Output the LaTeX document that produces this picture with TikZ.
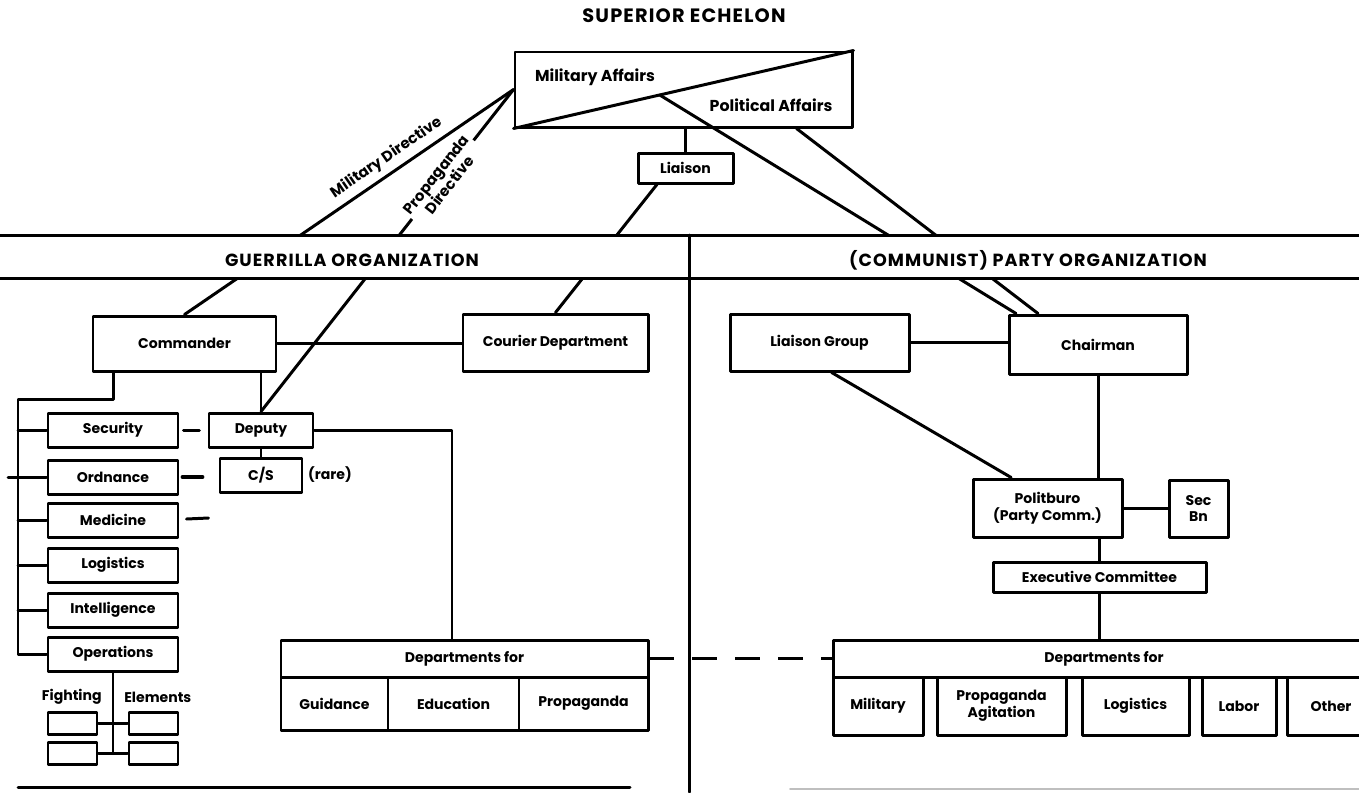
\documentclass[tikz,border=0pt]{standalone}
\usepackage{fontspec}
\setmainfont{Poppins}
\begin{document}
\begin{tikzpicture}[x=0.02cm, y=-0.02cm, line width=1.7pt, line join=round, line cap=round,
    font=\bfseries\fontsize{8}{9.5}\selectfont,
    bx/.style 2 args={draw, minimum width=#1*0.02cm, minimum height=#2*0.02cm, inner sep=0pt, align=center},
    band/.style={font=\bfseries\fontsize{10}{12}\selectfont\addfontfeature{LetterSpace=6}},
    dirlbl/.style={sloped, font=\bfseries\fontsize{8.5}{9.5}\selectfont}]
	\useasboundingbox (0,0) rectangle (1359,792);
	\clip (0,0) rectangle (1359,792);
	% superior echelon
	\node[font=\bfseries\fontsize{11}{13}\selectfont\addfontfeature{LetterSpace=6}] (ttl) at (684,16) {SUPERIOR ECHELON};
	\node[bx={337}{75}] (sup) at (683.5,89.5) {};
	\node[font=\bfseries\fontsize{9}{11}\selectfont] (mila) at (595,77) {Military Affairs};
	\node[font=\bfseries\fontsize{9}{11}\selectfont] (pola) at (771,105) {Political Affairs};
	\node[bx={95}{30}] (lia) at (685.5,168) {Liaison};
	% guerrilla organization
	\node[bx={183}{55}] (cmd) at (184.5,343.5) {Commander};
	\node[bx={185}{57}] (cou) at (555.5,342.5) {Courier Department};
	\node[bx={104}{34}] (dep) at (261,430) {Deputy};
	\node[bx={82}{34}] (cs) at (261,475) {C/S};
	\node (rare) at (330,475) {(rare)};
	\foreach \n/\lbl/\y in {scy/Security/430, ord/Ordnance/477, med/Medicine/520, lgs/Logistics/565, itl/Intelligence/610, ops/Operations/654}
		\node[bx={130}{34}] (\n) at (113,\y) {\lbl};
	\foreach \n/\x/\y in {fe1/72.5/723, fe2/153.5/723, fe3/72.5/753.5, fe4/153.5/753.5}
		\node[bx={49}{22}] (\n) at (\x,\y) {};
	\node[anchor=east] (fgt) at (109,697) {Fighting};
	\node[anchor=west] (elm) at (117,697) {Elements};
	\node[bx={367}{37}] (gdep) at (464.5,658.5) {Departments for};
	\node[bx={107}{53}] (gui) at (334.5,703.5) {Guidance};
	\node[bx={131}{53}] (edu) at (453.5,703.5) {Education};
	\node[bx={129}{53}] (pro) at (583.5,703.5) {Propaganda};
	% party organization
	\node[bx={179}{57}] (lgr) at (819.5,342.5) {Liaison Group};
	\node[bx={178}{59}] (chr) at (1098,344.5) {Chairman};
	\node[bx={149}{58}] (pol) at (1047.5,508) {Politburo\\(Party Comm.)};
	\node[bx={59}{57}] (sbn) at (1198.5,508.5) {Sec\\Bn};
	\node[bx={213}{30}] (exe) at (1099.5,577) {Executive Committee};
	\node[bx={542}{37}] (pdep) at (1104,658.5) {Departments for};
	\foreach \n/\lbl/\x/\w in {mil/Military/878/90, pag/{Propaganda\\Agitation}/1001.5/129, plg/Logistics/1135.5/107, lab/Labor/1239/74, oth/Other/1331/88}
		\node[bx={\w}{58}] (\n) at (\x,706) {\lbl};
	% attachment points
	\path (sup.south west) -- coordinate[pos=0.43] (polA) (sup.north east)
		(sup.south) ++(113,0) coordinate (polB)
		(chr.north) ++(-82,0) coordinate (chrA) ++(22,0) coordinate (chrB)
		(18,399) coordinate (spine)
		(452,640) coordinate (gdepT);
	% directives and lines from the superior echelon
	\draw (sup.south west) -- (sup.north east);
	\draw (sup.west) -- node[dirlbl, above, pos=0.36] {Military Directive} (cmd.north);
	\draw (sup.west) -- node[dirlbl, fill=white, pos=0.28, inner sep=1pt, align=center] {Propaganda\\Directive} (dep.north);
	\draw (lia.north) -- (lia.north |- sup.south);
	\draw (lia.-150) -- (cou.north);
	\draw (polA) -- (chrA);
	\draw (polB) -- (chrB);
	% guerrilla lines
	\draw (cmd.east) -- (cmd.east -| cou.west);
	\draw (cmd.south west) ++(22,0) |- (spine) |- (ops.west);
	\foreach \n in {scy,ord,med,lgs,itl} \draw (\n.west) -- (\n.west -| spine);
	\draw (ord.west -| spine) -- ++(-10,0);
	\draw (scy.east) ++(4,0) -- ++(16,0);
	\draw[line width=2.2pt] (ord.east) ++(3,0) -- ++(20,0);
	\draw (med.east) ++(7,-1) -- ++(22,-1);
	\draw (dep.north) -- (dep.north |- cmd.south);
	\draw (dep) -- (cs);
	\draw (dep.east) -| (gdepT);
	\draw (ops.south) -- (ops.south |- fe3.east);
	\draw (fe1) -- (fe2) (fe3) -- (fe4);
	\draw[dash pattern=on 0.5cm off 0.36cm, line cap=butt] (gdep.east) -- (pdep.west);
	% party lines
	\draw (lgr.east) -- (lgr.east -| chr.west);
	\draw (lgr.-68) -- (pol.140);
	\draw (chr.south) -- (chr.south |- pol.north);
	\draw (pol.east) -- (pol.east -| sbn.west);
	\draw (exe.north) -- (exe.north |- pol.south);
	\draw (exe.south) -- (exe.south |- pdep.north);
	% organization band
	\fill[white] (0,235) rectangle (1359,278);
	\draw (0,235) -- (1359,235) (0,278) -- (1359,278) (689,235) -- (689,792);
	\node[band] (gorg) at (352,260) {GUERRILLA ORGANIZATION};
	\node[band] (porg) at (1028,260) {(COMMUNIST) PARTY ORGANIZATION};
	\draw (18,787) -- (630,787);
	\draw[gray!50, line width=1pt] (790,789) -- (1359,789);
\end{tikzpicture}
\end{document}
